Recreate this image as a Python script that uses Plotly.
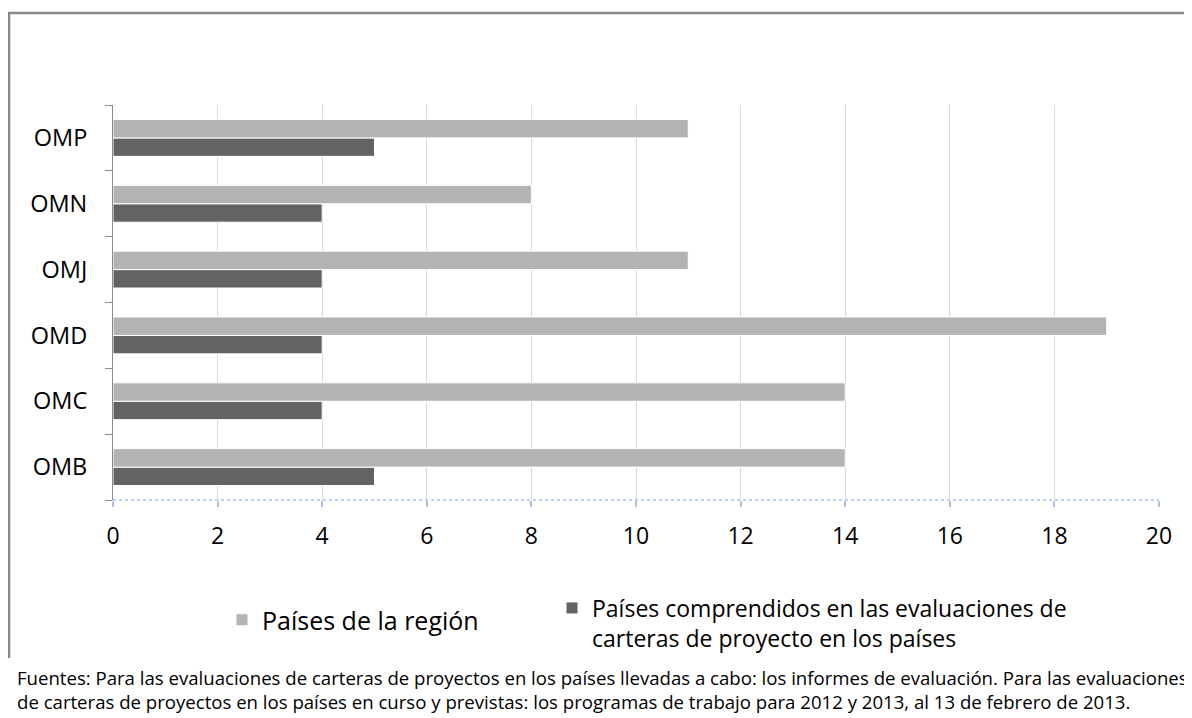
import plotly.graph_objects as go

categories = ["OMB", "OMC", "OMD", "OMJ", "OMN", "OMP"]
region_values = [14, 14, 19, 11, 8, 11]
covered_values = [5, 4, 4, 4, 4, 5]
x_ticks = [0, 2, 4, 6, 8, 10, 12, 14, 16, 18, 20]

name_region = "Países de la región"
name_covered = "Países comprendidos en las evaluaciones de<br>carteras de proyecto en los países"
footnote = ("Fuentes: Para las evaluaciones de carteras de proyectos en los países llevadas a cabo: los informes de evaluación. Para las evaluaciones<br>"
            "de carteras de proyectos en los países en curso y previstas: los programas de trabajo para 2012 y 2013, al 13 de febrero de 2013.")

FONT = "Open Sans, sans-serif"
OFF = 8  # page body margin
W, H = 1192 - OFF, 718 - OFF
# plot area in reference pixels: x 113..1159, y 105..500
L, R, T, B = 113 - OFF, W - (1159 - OFF), 105 - OFF, H - (500 - OFF)
pw, ph = W - L - R, H - T - B


def px_x(p):
    return (p - OFF - L) / pw


def px_y(p):
    return (H - B - (p - OFF)) / ph


fig = go.Figure()
fig.add_trace(go.Bar(y=categories, x=covered_values, orientation="h", name=name_covered,
                     marker=dict(color="#636363", line=dict(color="white", width=1)),
                     legend="legend2", showlegend=True))
fig.add_trace(go.Bar(y=categories, x=region_values, orientation="h", name=name_region,
                     marker=dict(color="#b3b3b3", line=dict(color="white", width=1)),
                     legend="legend", showlegend=True))

fig.update_layout(
    width=W, height=H,
    margin=dict(l=L, r=R, t=T, b=B),
    paper_bgcolor="white", plot_bgcolor="white",
    showlegend=True,
    barmode="group", bargap=0.44, bargroupgap=0,
    font=dict(family=FONT, color="#000000"),
    xaxis=dict(range=[0, 20], tickvals=x_ticks, ticktext=[str(v) for v in x_ticks],
               showgrid=True, gridcolor="#d9d9d9", gridwidth=1, zeroline=False,
               showline=False, ticks="outside", ticklen=6, tickwidth=1.5, tickcolor="#a9c4eb",
               ticklabelstandoff=9, tickfont=dict(size=23, family=FONT, color="#000")),
    yaxis=dict(type="category", categoryorder="array", categoryarray=categories,
               range=[-0.5, 5.5], showgrid=False, zeroline=False,
               showline=True, linecolor="#8c8c8c", linewidth=1,
               ticks="outside", ticklen=7, tickcolor="#8c8c8c", tickson="boundaries",
               ticklabelstandoff=20, tickfont=dict(size=23.5, family=FONT, color="#000")),
    legend=dict(orientation="h", x=px_x(222), y=px_y(620), xanchor="left", yanchor="middle",
                font=dict(size=25, family=FONT, color="#000"), bgcolor="rgba(0,0,0,0)",
                itemwidth=30),
    legend2=dict(orientation="h", x=px_x(552), y=px_y(623), xanchor="left", yanchor="middle",
                 font=dict(size=23, family=FONT, color="#000"), bgcolor="rgba(0,0,0,0)",
                 valign="top", itemwidth=30),
    shapes=[
        dict(type="line", xref="paper", yref="paper", x0=0, x1=1, y0=0, y1=0,
             line=dict(color="#a9c4eb", width=1.5, dash="dot")),
        dict(type="line", xref="paper", yref="paper", x0=px_x(8), x1=px_x(1192),
             y0=px_y(13), y1=px_y(13), line=dict(color="#888888", width=2.5)),
        dict(type="line", xref="paper", yref="paper", x0=px_x(9), x1=px_x(9),
             y0=px_y(12), y1=px_y(658), line=dict(color="#888888", width=2.5)),
    ],
    annotations=[
        dict(text=footnote, xref="paper", yref="paper", x=px_x(15), y=px_y(689),
             xanchor="left", yanchor="middle", align="left", showarrow=False,
             font=dict(size=18.6, family=FONT, color="#000")),
    ],
)

fig.write_html("out.html")
